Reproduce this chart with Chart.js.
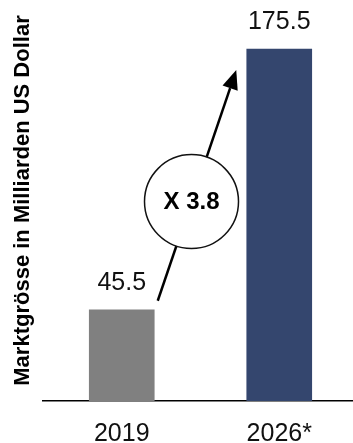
<!DOCTYPE html>
<html>
<head>
<meta charset="utf-8">
<script src="https://cdn.jsdelivr.net/npm/chart.js@4.4.0/dist/chart.umd.min.js"></script>
<style>
  html, body { margin: 0; padding: 0; background: #fff; overflow: hidden; }
</style>
</head>
<body>
<canvas id="myChart" width="358" height="443"></canvas>
<script>
const years = ['2019', '2026*']
const marketSize = [45.5, 175.5]
const barColors = ['#808080', '#34466e']
const growthLabel = 'X 3.8'
const axisTitle = 'Marktgrösse in Milliarden US Dollar'

const regular = '"Liberation Sans", Arial, sans-serif'

// numbers above the bars
const valueLabels = {
    id: 'valueLabels',
    afterDatasetsDraw(chart) {
        const ctx = chart.ctx
        const meta = chart.getDatasetMeta(0)
        ctx.save()
        ctx.fillStyle = '#111'
        ctx.font = '25px ' + regular
        ctx.textAlign = 'center'
        ctx.textBaseline = 'middle'
        meta.data.forEach((bar, i) => {
            ctx.fillText(marketSize[i].toFixed(1), bar.x, bar.y - 27)
        })
        ctx.restore()
    }
}

// arrow between the bar tops with the growth factor circle
const growthArrow = {
    id: 'growthArrow',
    afterDatasetsDraw(chart) {
        const ctx = chart.ctx
        const meta = chart.getDatasetMeta(0)
        const a = meta.data[0]
        const b = meta.data[1]
        const x1 = a.x + 36, y1 = a.y - 9
        const x2 = b.x - 43, y2 = b.y + 21
        const ang = Math.atan2(y2 - y1, x2 - x1)
        const headLen = 19, headW = 8
        const bx = x2 - headLen * Math.cos(ang)
        const by = y2 - headLen * Math.sin(ang)

        ctx.save()
        ctx.strokeStyle = '#000'
        ctx.fillStyle = '#000'
        ctx.lineWidth = 2.5
        ctx.beginPath()
        ctx.moveTo(x1, y1)
        ctx.lineTo(bx, by)
        ctx.stroke()

        ctx.beginPath()
        ctx.moveTo(x2, y2)
        ctx.lineTo(bx + headW * Math.sin(ang), by - headW * Math.cos(ang))
        ctx.lineTo(bx - headW * Math.sin(ang), by + headW * Math.cos(ang))
        ctx.closePath()
        ctx.fill()

        const cx = x1 + 0.43 * (x2 - x1)
        const cy = y1 + 0.43 * (y2 - y1)
        ctx.beginPath()
        ctx.arc(cx, cy, 47, 0, Math.PI * 2)
        ctx.fillStyle = '#fff'
        ctx.fill()
        ctx.lineWidth = 1.5
        ctx.strokeStyle = '#111'
        ctx.stroke()

        ctx.fillStyle = '#000'
        ctx.font = 'bold 24px ' + regular
        ctx.textAlign = 'center'
        ctx.textBaseline = 'middle'
        ctx.fillText(growthLabel, cx, cy + 1)
        ctx.restore()
    }
}

const ctx = document.getElementById('myChart').getContext('2d')

const myChart = new Chart(ctx, {
    type: 'bar',
    data: {
        labels: years,
        datasets: [
            {
                data: marketSize,
                backgroundColor: barColors,
                barThickness: 65
            }
        ]
    },
    options: {
        responsive: false,
        animation: false,
        layout: { padding: 0 },
        plugins: {
            legend: { display: false },
            tooltip: { enabled: false }
        },
        scales: {
            x: {
                grid: { display: false, drawTicks: false },
                border: { display: true, color: '#000', width: 1.5 },
                ticks: {
                    color: '#111',
                    font: { family: regular, size: 25 },
                    padding: 18
                },
                afterFit(scale) { scale.height = 42 }
            },
            y: {
                min: 0,
                max: 200,
                grid: { display: false, drawTicks: false },
                border: { display: false },
                ticks: { display: false },
                title: {
                    display: true,
                    text: axisTitle,
                    color: '#000',
                    font: { family: regular, size: 22, weight: 'bold' },
                    padding: { top: 10, bottom: 0 }
                },
                afterFit(scale) { scale.width = 43 }
            }
        }
    },
    plugins: [growthArrow, valueLabels]
})
</script>
</body>
</html>
